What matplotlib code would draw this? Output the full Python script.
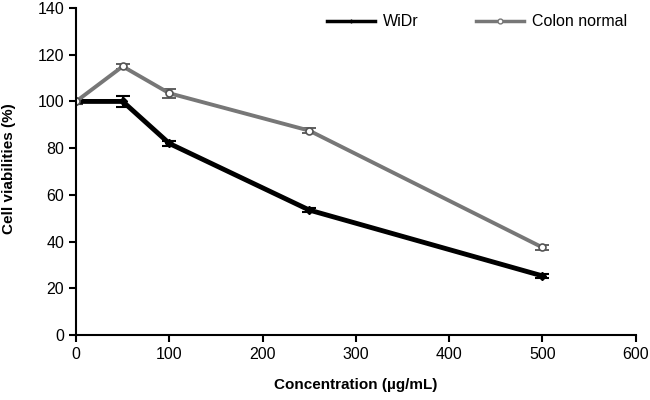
import matplotlib.pyplot as plt
from matplotlib.lines import Line2D
import numpy as np

plt.rcParams['font.family'] = ['Liberation Sans', 'DejaVu Sans']

conc = [0, 50, 100, 250, 500]
widr = [100, 100, 82, 53.5, 25.3]
widr_err = [1.0, 2.5, 1.2, 1.0, 1.0]
colon = [100, 115, 103.5, 87.5, 37.5]
colon_err = [1.0, 1.2, 2.0, 1.0, 1.0]

fig = plt.figure(figsize=(6.5, 4), dpi=100)
ax = fig.add_axes([0.117, 0.1625, 0.861, 0.8175])

ax.errorbar(conc, widr, yerr=widr_err, color='black', lw=3.5, marker='D', ms=4,
            capsize=5, capthick=1.5, elinewidth=1.5)
ax.errorbar(conc, colon, yerr=colon_err, color='#777777', lw=2.8, marker='o', ms=5,
            mfc='white', mec='#555555', mew=1.2, capsize=5, capthick=1.5,
            elinewidth=1.5, ecolor='#444444')

ax.set_xlim(0, 600)
ax.set_ylim(0, 140)
ax.set_xticks(np.arange(0, 601, 100))
ax.set_yticks(np.arange(0, 141, 20))
ax.spines['top'].set_visible(False)
ax.spines['right'].set_visible(False)
ax.spines['left'].set_linewidth(1.5)
ax.spines['bottom'].set_linewidth(1.5)
ax.tick_params(direction='out', length=5, width=1.5, labelsize=11.5)

ax.set_xlabel('Concentration (µg/mL)', fontsize=11, fontweight='bold', labelpad=12)
ax.set_ylabel('Cell viabilities (%)', fontsize=11, fontweight='bold')
ax.yaxis.set_label_coords(-0.108, 0.51)

handles = [Line2D([], [], color='black', lw=2.5, marker='|', ms=3),
           Line2D([], [], color='#777777', lw=2.5, marker='o', ms=3.5, mfc='white', mec='#777777')]
ax.legend(handles, ['WiDr', 'Colon normal'], loc='upper right', bbox_to_anchor=(1.01, 1.025),
          ncol=2, frameon=False, fontsize=11.5, handlelength=3.0, columnspacing=3.6,
          handletextpad=0.5, numpoints=1)

fig.savefig('out.png', dpi=100)
